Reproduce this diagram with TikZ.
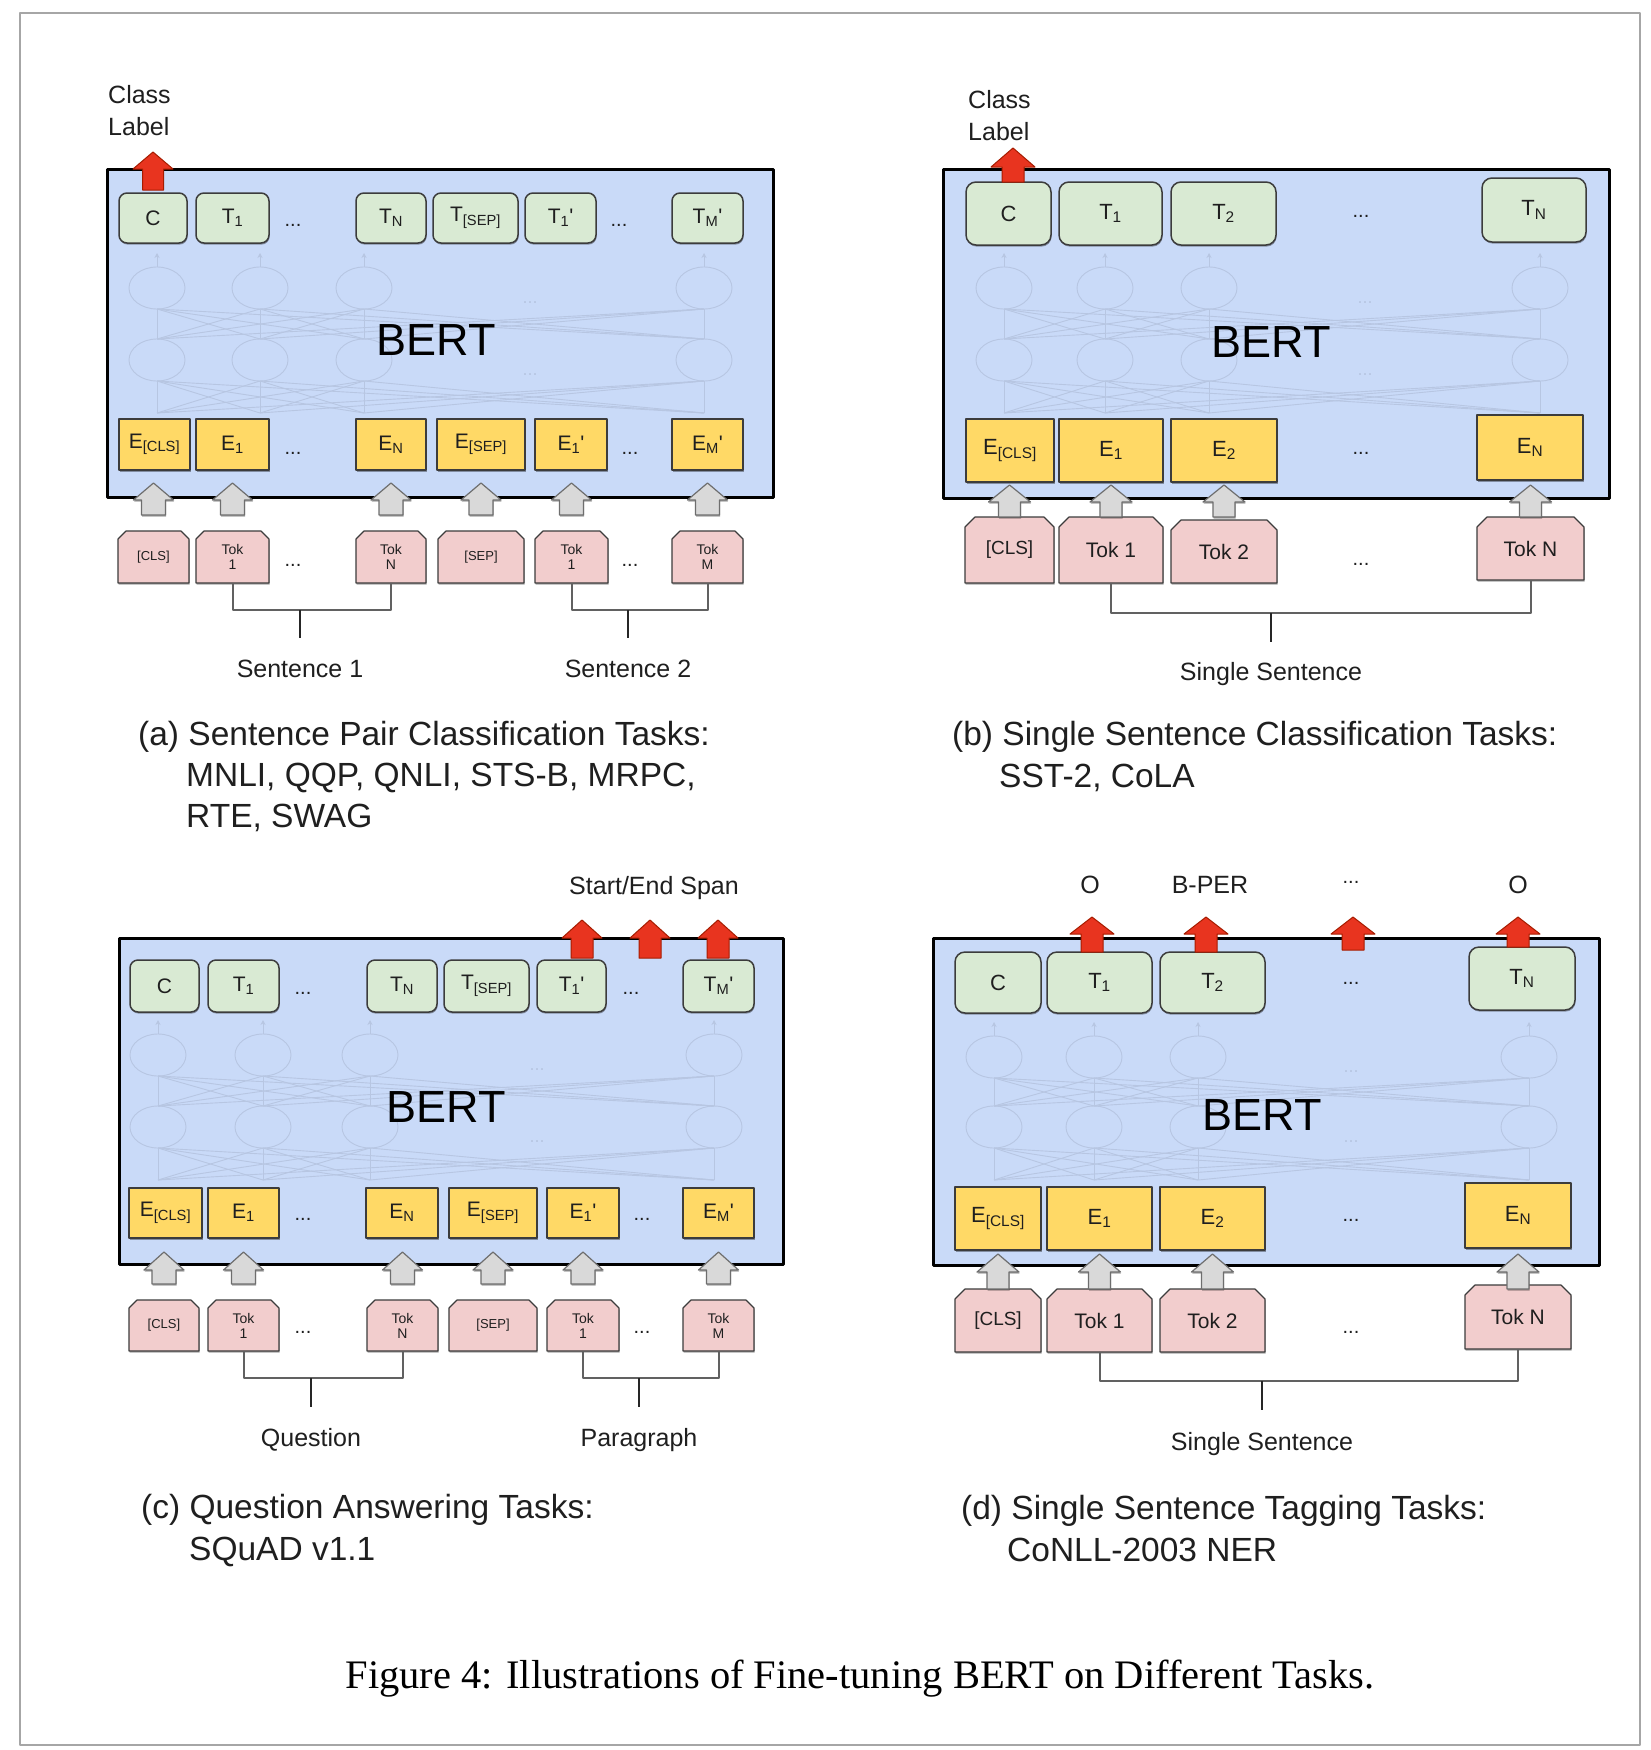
\documentclass[tikz,border=0pt]{standalone}
\usepackage{fontspec}
\setmainfont{Liberation Sans}
\newfontfamily\capserif{Liberation Serif}
\usetikzlibrary{calc,shadows,arrows.meta}
\definecolor{bertblue}{HTML}{C9DAF8}
\definecolor{tgreen}{HTML}{D9EAD3}
\definecolor{eyellow}{HTML}{FFD966}
\definecolor{tokpink}{HTML}{F2CDCD}
\definecolor{garrowc}{HTML}{D9D9D9}
\definecolor{garrowl}{HTML}{6E6E6E}
\definecolor{rarrowc}{HTML}{E8341F}
\definecolor{rarrowl}{HTML}{A61C00}
\definecolor{boxline}{HTML}{3C3C3C}
\definecolor{netc}{HTML}{B7C6E2}
\definecolor{framec}{HTML}{A6A6A6}
\definecolor{txt}{HTML}{1F1F1F}

\newcommand\myfs[2]{\fontsize{#1}{#2}\selectfont}
% box node: name, style, x1, x2, y1, y2, text
\newcommand\bx[7]{\node[#2, minimum width={(#4)-(#3)}, minimum height={(#6)-(#5)}] (#1) at ({((#3)+(#4))/2},{((#5)+(#6))/2}) {#7};}
% token node with chamfered top corners
\newcommand\tok[7]{\draw[tokshape] (#3,#6) -- (#3,{#5+\mychf}) -- ({#3+\mychf},#5) -- ({#4-\mychf},#5) -- (#4,{#5+\mychf}) -- (#4,#6) -- cycle;
  \bx{#1}{#2}{#3}{#4}{#5}{#6}{#7}}
% gray block arrow above a token node: node, tip, base, bottom, head half, shaft half
\newcommand\garr[6]{\draw[grayarr] let \p1=(#1.center) in (\x1,-#2pt) -- (\x1+#5pt,-#3pt) -- (\x1+#6pt,-#3pt) -- (\x1+#6pt,-#4pt) -- (\x1-#6pt,-#4pt) -- (\x1-#6pt,-#3pt) -- (\x1-#5pt,-#3pt) -- cycle;}
% red block arrow: x, tip, base, bottom, head half, shaft half
\newcommand\rarr[6]{\draw[redarr] (#1,#2) -- ({#1+#5},#3) -- ({#1+#6},#3) -- ({#1+#6},#4) -- ({#1-#6},#4) -- ({#1-#6},#3) -- ({#1-#5},#3) -- cycle;}
% faint network: 4 columns, upper y, lower y, dots x, prefix
\newcommand\bertnet[8]{%
  \foreach \xa in {#1,#2,#3,#4}{%
    \draw[net] (\xa,#5) ellipse [x radius=28, y radius=21];
    \draw[net] (\xa,#6) ellipse [x radius=28, y radius=21];
    \draw[net,-{Stealth[length=5pt,width=5pt]}] (\xa,#5-21) -- (\xa,#5-35);
    \foreach \xb in {#1,#2,#3,#4}{%
      \draw[net] (\xa,#6-21) -- (\xb,#5+21);
      \draw[net] (\xa,#6+53) -- (\xb,#6+21);
    }%
  }%
  \node[netdots] (#8d1) at (#7,#5+15) {...};
  \node[netdots] (#8d2) at (#7,#6+15) {...};
}

\begin{document}
\begin{tikzpicture}[x=1pt,y=-1pt,line join=round,
  shd/.style={drop shadow={shadow xshift=0.6pt, shadow yshift=-1.6pt, opacity=0.35, fill=black}},
  bertbox/.style={draw=black, line width=3pt, fill=bertblue, inner sep=0pt, drop shadow={shadow xshift=1pt, shadow yshift=-2pt, opacity=0.3, fill=black}},
  tbox/.style={draw=boxline, line width=1.5pt, fill=tgreen, rounded corners=8pt, inner sep=0pt, text=txt, shd},
  tboxb/.style={tbox, rounded corners=10pt},
  ebox/.style={draw=boxline, line width=1.2pt, fill=eyellow, inner sep=0pt, text=txt, shd},
  tokshape/.style={draw=boxline, line width=1.2pt, fill=tokpink, shd},
  toktext/.style={inner sep=0pt, text=txt, align=center},
  fa/.style={font=\myfs{21}{24}},
  fb/.style={font=\myfs{22}{26}},
  tka/.style={font=\myfs{14}{15}},
  tkb/.style={font=\myfs{21}{24}},
  dotsn/.style={text=txt, inner sep=0pt, font=\myfs{20}{22}},
  net/.style={draw=netc, line width=0.9pt},
  netdots/.style={text=netc, inner sep=0pt, font=\myfs{18}{20}},
  grayarr/.style={fill=garrowc, draw=garrowl, line width=1.2pt, shd},
  redarr/.style={fill=rarrowc, draw=rarrowl, line width=1pt},
  brk/.style={draw=black!62, line width=2pt},
  stemline/.style={draw=black!85, line width=2pt},
  lbl/.style={text=txt, inner sep=0pt, font=\myfs{25}{32}},
  capt/.style={text=txt, inner sep=0pt, anchor=base west, font=\myfs{33.5}{40}},
  bertlbl/.style={text=black, inner sep=0pt, font=\myfs{45}{50}},
]
\useasboundingbox (0,0) rectangle (1650,1750);
\fill[white] (0,0) rectangle (1650,1750);
\draw[framec, line width=2.5pt] (20,13) rectangle (1640,1745);

%%%%%%%%%%%%%%%% (a)
\bx{aBox}{bertbox}{107}{773}{169}{497}{}
\bertnet{157}{260}{364}{704}{288}{360}{530}{aN}
\node[bertlbl] (aBERT) at (436,340) {BERT};
\bx{aC}{tbox,fa}{119}{187}{193}{243}{C}
\bx{aT1}{tbox,fa}{196}{269}{193}{243}{T\textsubscript{1}}
\node[dotsn] (aTd1) at (293,225) {...};
\bx{aTN}{tbox,fa}{356}{426}{193}{243}{T\textsubscript{N}}
\bx{aTS}{tbox,fa}{433}{518}{193}{243}{T\textsubscript{[SEP]}}
\bx{aT1p}{tbox,fa}{525}{596}{193}{243}{T\textsubscript{1}\textquotesingle}
\node[dotsn] (aTd2) at (619,225) {...};
\bx{aTM}{tbox,fa}{672}{743}{193}{243}{T\textsubscript{M}\textquotesingle}
\bx{aE0}{ebox,fa}{119}{190}{419}{470}{E\textsubscript{[CLS]}}
\bx{aE1}{ebox,fa}{196}{269}{419}{470}{E\textsubscript{1}}
\node[dotsn] (aEd1) at (293,453) {...};
\bx{aEN}{ebox,fa}{356}{426}{419}{470}{E\textsubscript{N}}
\bx{aES}{ebox,fa}{437}{525}{419}{470}{E\textsubscript{[SEP]}}
\bx{aE1p}{ebox,fa}{535}{607}{419}{470}{E\textsubscript{1}\textquotesingle}
\node[dotsn] (aEd2) at (630,453) {...};
\bx{aEM}{ebox,fa}{672}{743}{419}{470}{E\textsubscript{M}\textquotesingle}
\def\mychf{8}
\tok{aK0}{toktext,font=\myfs{13}{15}}{118}{189}{531}{583}{[CLS]}
\tok{aK1}{toktext,tka}{196}{269}{531}{583}{Tok\\1}
\node[dotsn] (aKd1) at (293,565) {...};
\tok{aKN}{toktext,tka}{356}{426}{531}{583}{Tok\\N}
\tok{aKS}{toktext,font=\myfs{13}{15}}{438}{524}{531}{583}{[SEP]}
\tok{aK1p}{toktext,tka}{535}{608}{531}{583}{Tok\\1}
\node[dotsn] (aKd2) at (630,565) {...};
\tok{aKM}{toktext,tka}{672}{743}{531}{583}{Tok\\M}
\foreach \kk in {aK0,aK1,aKN,aKS,aK1p,aKM} {\garr{\kk}{483}{500}{515}{20}{12}}
\rarr{153}{152}{169}{190}{20}{10.5}
\node[lbl, align=left, anchor=west] (aCL) at (108,111) {Class\\Label};
\node[lbl, anchor=base] (aS1) at (300,677) {Sentence 1};
\node[lbl, anchor=base] (aS2) at (628,677) {Sentence 2};
\draw[brk] let \p1=(aK1.south), \p2=(aKN.south) in (\p1) -- (\x1,-610pt) -- (\x2,-610pt) -- (\p2);
\draw[stemline] let \p1=(aS1.center) in (\x1,-610pt) -- (\x1,-638pt);
\draw[brk] let \p1=(aK1p.south), \p2=(aKM.south) in (\p1) -- (\x1,-610pt) -- (\x2,-610pt) -- (\p2);
\draw[stemline] let \p1=(aS2.center) in (\x1,-610pt) -- (\x1,-638pt);
\node[capt] (aCap1) at (138,745) {(a) Sentence Pair Classification Tasks:};
\node[capt] (aCap2) at (186,786) {MNLI, QQP, QNLI, STS-B, MRPC,};
\node[capt] (aCap3) at (186,827) {RTE, SWAG};

%%%%%%%%%%%%%%%% (b)
\bx{bBox}{bertbox}{943}{1609}{169}{498}{}
\bertnet{1004}{1105}{1209}{1540}{288}{360}{1365}{bN}
\node[bertlbl] (bBERT) at (1271,342) {BERT};
\bx{bC}{tboxb,fb}{966}{1051}{182}{245}{C}
\bx{bT1}{tboxb,fb}{1059}{1162}{182}{245}{T\textsubscript{1}}
\bx{bT2}{tboxb,fb}{1171}{1276}{182}{245}{T\textsubscript{2}}
\node[dotsn] (bTd) at (1361,216) {...};
\bx{bTN}{tboxb,fb}{1482}{1586}{178}{242}{T\textsubscript{N}}
\bx{bE0}{ebox,fb}{966}{1054}{419}{482}{E\textsubscript{[CLS]}}
\bx{bE1}{ebox,fb}{1059}{1163}{419}{482}{E\textsubscript{1}}
\bx{bE2}{ebox,fb}{1171}{1277}{419}{482}{E\textsubscript{2}}
\node[dotsn] (bEd) at (1361,453) {...};
\bx{bEN}{ebox,fb}{1477}{1583}{415}{480}{E\textsubscript{N}}
\def\mychf{10}
\tok{bK0}{toktext,font=\myfs{19}{22}}{965}{1054}{517}{583}{[CLS]}
\tok{bK1}{toktext,tkb}{1059}{1163}{517}{583}{Tok 1}
\tok{bK2}{toktext,tkb}{1171}{1277}{520}{583}{Tok 2}
\node[dotsn] (bKd) at (1361,564) {...};
\tok{bKN}{toktext,tkb}{1477}{1584}{517}{580}{Tok N}
\foreach \kk in {bK0,bK1,bK2,bKN} {\garr{\kk}{485}{502}{517}{21}{11}}
\rarr{1013}{148}{167}{182}{22}{11}
\node[lbl, align=left, anchor=west] (bCL) at (968,116) {Class\\Label};
\node[lbl, anchor=base] (bS) at (1271,680) {Single Sentence};
\draw[brk] let \p1=(bK1.south), \p2=(bKN.south) in (\p1) -- (\x1,-613pt) -- (\x2,-613pt) -- (\p2);
\draw[stemline] let \p1=(bS.center) in (\x1,-613pt) -- (\x1,-642pt);
\node[capt] (bCap1) at (952,745) {(b) Single Sentence Classification Tasks:};
\node[capt] (bCap2) at (999,787) {SST-2, CoLA};

%%%%%%%%%%%%%%%% (c)
\bx{cBox}{bertbox}{119}{783}{938}{1264}{}
\bertnet{158}{263}{370}{714}{1055}{1127}{537}{cN}
\node[bertlbl] (cBERT) at (446,1107) {BERT};
\bx{cC}{tbox,fa}{130}{199}{960}{1012}{C}
\bx{cT1}{tbox,fa}{208}{279}{960}{1012}{T\textsubscript{1}}
\node[dotsn] (cTd1) at (303,993) {...};
\bx{cTN}{tbox,fa}{367}{437}{960}{1012}{T\textsubscript{N}}
\bx{cTS}{tbox,fa}{444}{529}{960}{1012}{T\textsubscript{[SEP]}}
\bx{cT1p}{tbox,fa}{537}{606}{960}{1012}{T\textsubscript{1}\textquotesingle}
\node[dotsn] (cTd2) at (631,993) {...};
\bx{cTM}{tbox,fa}{683}{754}{960}{1012}{T\textsubscript{M}\textquotesingle}
\bx{cE0}{ebox,fa}{129}{202}{1188}{1238}{E\textsubscript{[CLS]}}
\bx{cE1}{ebox,fa}{208}{279}{1188}{1238}{E\textsubscript{1}}
\node[dotsn] (cEd1) at (303,1219) {...};
\bx{cEN}{ebox,fa}{366}{438}{1188}{1238}{E\textsubscript{N}}
\bx{cES}{ebox,fa}{449}{537}{1188}{1238}{E\textsubscript{[SEP]}}
\bx{cE1p}{ebox,fa}{547}{619}{1188}{1238}{E\textsubscript{1}\textquotesingle}
\node[dotsn] (cEd2) at (642,1219) {...};
\bx{cEM}{ebox,fa}{683}{754}{1188}{1238}{E\textsubscript{M}\textquotesingle}
\def\mychf{8}
\tok{cK0}{toktext,font=\myfs{13}{15}}{129}{199}{1300}{1351}{[CLS]}
\tok{cK1}{toktext,tka}{208}{279}{1300}{1351}{Tok\\1}
\node[dotsn] (cKd1) at (303,1332) {...};
\tok{cKN}{toktext,tka}{367}{438}{1300}{1351}{Tok\\N}
\tok{cKS}{toktext,font=\myfs{13}{15}}{449}{537}{1300}{1351}{[SEP]}
\tok{cK1p}{toktext,tka}{547}{619}{1300}{1351}{Tok\\1}
\node[dotsn] (cKd2) at (642,1332) {...};
\tok{cKM}{toktext,tka}{683}{754}{1300}{1351}{Tok\\M}
\foreach \kk in {cK0,cK1,cKN,cKS,cK1p,cKM} {\garr{\kk}{1252}{1270}{1284}{20}{12}}
\rarr{582}{920}{938}{958}{20}{11}
\rarr{650}{920}{938}{958}{20}{11}
\rarr{718}{920}{938}{958}{20}{11}
\node[lbl, anchor=base] (cSpan) at (654,894) {Start/End Span};
\node[lbl, anchor=base] (cQ) at (311,1446) {Question};
\node[lbl, anchor=base] (cP) at (639,1446) {Paragraph};
\draw[brk] let \p1=(cK1.south), \p2=(cKN.south) in (\p1) -- (\x1,-1378pt) -- (\x2,-1378pt) -- (\p2);
\draw[stemline] let \p1=(cQ.center) in (\x1,-1378pt) -- (\x1,-1407pt);
\draw[brk] let \p1=(cK1p.south), \p2=(cKM.south) in (\p1) -- (\x1,-1378pt) -- (\x2,-1378pt) -- (\p2);
\draw[stemline] let \p1=(cP.center) in (\x1,-1378pt) -- (\x1,-1407pt);
\node[capt] (cCap1) at (141,1518) {(c) Question Answering Tasks:};
\node[capt] (cCap2) at (189,1560) {SQuAD v1.1};

%%%%%%%%%%%%%%%% (d)
\bx{dBox}{bertbox}{933}{1599}{938}{1265}{}
\bertnet{994}{1094}{1198}{1529}{1057}{1127}{1351}{dN}
\node[bertlbl] (dBERT) at (1262,1115) {BERT};
\bx{dC}{tboxb,fb}{955}{1041}{952}{1013}{C}
\bx{dT1}{tboxb,fb}{1047}{1152}{952}{1013}{T\textsubscript{1}}
\bx{dT2}{tboxb,fb}{1160}{1265}{952}{1013}{T\textsubscript{2}}
\node[dotsn] (dTd) at (1351,983) {...};
\bx{dTN}{tboxb,fb}{1469}{1575}{947}{1010}{T\textsubscript{N}}
\bx{dE0}{ebox,fb}{955}{1041}{1187}{1250}{E\textsubscript{[CLS]}}
\bx{dE1}{ebox,fb}{1047}{1152}{1187}{1250}{E\textsubscript{1}}
\bx{dE2}{ebox,fb}{1160}{1265}{1187}{1250}{E\textsubscript{2}}
\node[dotsn] (dEd) at (1351,1220) {...};
\bx{dEN}{ebox,fb}{1465}{1571}{1183}{1248}{E\textsubscript{N}}
\def\mychf{10}
\tok{dK0}{toktext,font=\myfs{19}{22}}{955}{1041}{1289}{1352}{[CLS]}
\tok{dK1}{toktext,tkb}{1047}{1152}{1289}{1352}{Tok 1}
\tok{dK2}{toktext,tkb}{1160}{1265}{1289}{1352}{Tok 2}
\node[dotsn] (dKd) at (1351,1332) {...};
\tok{dKN}{toktext,tkb}{1465}{1571}{1285}{1349}{Tok N}
\foreach \kk in {dK0,dK1,dK2,dKN} {\garr{\kk}{1254}{1272}{1289}{21}{11}}
\rarr{1092}{917}{934}{952}{22}{11}
\rarr{1206}{917}{934}{952}{22}{11}
\rarr{1353}{917}{934}{950}{22}{11}
\rarr{1518}{917}{934}{947}{22}{11}
\node[lbl, anchor=base] (dL1) at (1090,893) {O};
\node[lbl, anchor=base] (dL2) at (1210,893) {B-PER};
\node[dotsn] (dL3) at (1351,882) {...};
\node[lbl, anchor=base] (dL4) at (1518,893) {O};
\node[lbl, anchor=base] (dS) at (1262,1450) {Single Sentence};
\draw[brk] let \p1=(dK1.south), \p2=(dKN.south) in (\p1) -- (\x1,-1381pt) -- (\x2,-1381pt) -- (\p2);
\draw[stemline] let \p1=(dS.center) in (\x1,-1381pt) -- (\x1,-1410pt);
\node[capt] (dCap1) at (961,1519) {(d) Single Sentence Tagging Tasks:};
\node[capt] (dCap2) at (1007,1561) {CoNLL-2003 NER};

%%%%%%%%%%%%%%%% caption
\node[text=black, inner sep=0pt, anchor=base, font=\capserif\myfs{40.5}{46}] (fig) at (860,1688) {Figure 4: Illustrations of Fine-tuning BERT on Different Tasks.};
\end{tikzpicture}
\end{document}
